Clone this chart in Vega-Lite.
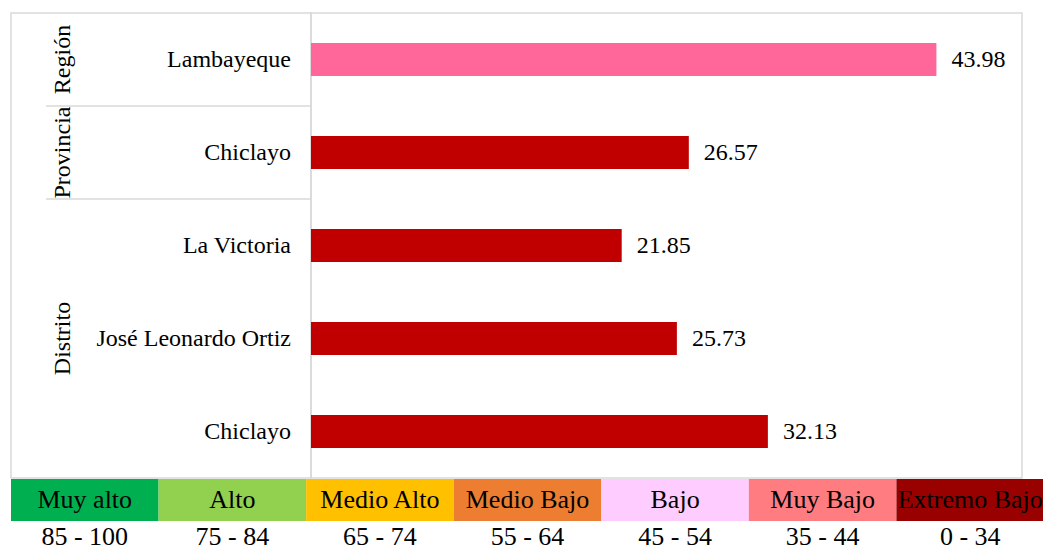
{
  "$schema": "https://vega.github.io/schema/vega-lite/v6.json",
  "padding": {"left": 10, "top": 12, "right": 0, "bottom": 0},
  "background": "white",
  "config": {
    "view": {"stroke": "#d9d9d9", "strokeWidth": 1.5},
    "font": "Liberation Serif",
    "concat": {"spacing": 0}
  },
  "datasets": {
    "filas": [
      {"id": "r0", "nombre": "Lambayeque", "valor": 43.98, "nivel": "Muy Bajo"},
      {"id": "r1", "nombre": "Chiclayo", "valor": 26.57, "nivel": "Extremo Bajo"},
      {"id": "r2", "nombre": "La Victoria", "valor": 21.85, "nivel": "Extremo Bajo"},
      {"id": "r3", "nombre": "José Leonardo Ortiz", "valor": 25.73, "nivel": "Extremo Bajo"},
      {"id": "r4", "nombre": "Chiclayo", "valor": 32.13, "nivel": "Extremo Bajo"}
    ],
    "grupos": [
      {"id": "r0", "grupo": "Región"},
      {"id": "r1", "grupo": "Provincia"},
      {"id": "r3", "grupo": "Distrito"}
    ],
    "separadores": [
      {"id": "r1"},
      {"id": "r2"}
    ],
    "leyenda": [
      {"categoria": "Muy alto", "rango": "85 - 100"},
      {"categoria": "Alto", "rango": "75 - 84"},
      {"categoria": "Medio Alto", "rango": "65 - 74"},
      {"categoria": "Medio Bajo", "rango": "55 - 64"},
      {"categoria": "Bajo", "rango": "45 - 54"},
      {"categoria": "Muy Bajo", "rango": "35 - 44"},
      {"categoria": "Extremo Bajo", "rango": "0 - 34"}
    ]
  },
  "resolve": {"scale": {"color": "independent"}},
  "vconcat": [
    {
      "bounds": "flush",
      "hconcat": [
        {
          "width": 300,
          "height": 465,
          "layer": [
            {
              "data": {"name": "separadores"},
              "mark": {"type": "rule", "color": "#d9d9d9", "strokeWidth": 1.5},
              "encoding": {
                "y": {
                  "field": "id", "type": "nominal", "bandPosition": 0,
                  "scale": {"domain": ["r0", "r1", "r2", "r3", "r4"], "paddingInner": 0, "paddingOuter": 0},
                  "axis": null
                },
                "x": {"datum": 35, "type": "quantitative", "scale": {"domain": [0, 300]}, "axis": null},
                "x2": {"datum": 300}
              }
            },
            {
              "data": {"name": "filas"},
              "mark": {"type": "text", "align": "right", "baseline": "middle", "fontSize": 24, "dx": 130, "color": "black"},
              "encoding": {
                "y": {"field": "id", "type": "nominal", "scale": {"domain": ["r0", "r1", "r2", "r3", "r4"], "paddingInner": 0, "paddingOuter": 0}, "axis": null},
                "text": {"field": "nombre"}
              }
            },
            {
              "data": {"name": "grupos"},
              "mark": {"type": "text", "angle": 270, "align": "center", "baseline": "middle", "fontSize": 24, "dy": -98, "color": "black"},
              "encoding": {
                "y": {"field": "id", "type": "nominal", "scale": {"domain": ["r0", "r1", "r2", "r3", "r4"], "paddingInner": 0, "paddingOuter": 0}, "axis": null},
                "text": {"field": "grupo"}
              }
            }
          ]
        },
        {
          "width": 711,
          "height": 465,
          "data": {"name": "filas"},
          "encoding": {
            "y": {"field": "id", "type": "nominal", "scale": {"domain": ["r0", "r1", "r2", "r3", "r4"], "paddingInner": 0, "paddingOuter": 0}, "axis": null},
            "x": {"field": "valor", "type": "quantitative", "scale": {"domain": [0, 50]}, "axis": null}
          },
          "layer": [
            {
              "mark": {"type": "bar", "height": {"band": 0.355}},
              "encoding": {
                "color": {"field": "nivel", "type": "nominal", "scale": {"domain": ["Muy Bajo", "Extremo Bajo"], "range": ["#FF6699", "#C00000"]}, "legend": null}
              }
            },
            {
              "mark": {"type": "text", "align": "left", "baseline": "middle", "dx": 15, "fontSize": 24, "color": "black"},
              "encoding": {"text": {"field": "valor", "type": "quantitative", "format": ".2f"}}
            }
          ]
        }
      ]
    },
    {
      "width": 1033,
      "height": 42,
      "view": {"stroke": null},
      "data": {"name": "leyenda"},
      "encoding": {
        "x": {
          "field": "rango", "type": "nominal", "sort": null,
          "scale": {"paddingInner": 0, "paddingOuter": 0},
          "axis": {"orient": "bottom", "title": null, "ticks": false, "domain": false, "labelFontSize": 26, "labelColor": "black", "labelPadding": 2, "labelAngle": 0, "labelFont": "Liberation Serif"}
        }
      },
      "layer": [
        {
          "mark": {"type": "rect"},
          "encoding": {
            "color": {
              "field": "categoria", "type": "nominal", "legend": null,
              "scale": {
                "domain": ["Muy alto", "Alto", "Medio Alto", "Medio Bajo", "Bajo", "Muy Bajo", "Extremo Bajo"],
                "range": ["#00B050", "#92D050", "#FFC000", "#ED7D31", "#FFCCFF", "#FF7C80", "#990000"]
              }
            }
          }
        },
        {
          "mark": {"type": "text", "fontSize": 26, "color": "black", "baseline": "middle"},
          "encoding": {"text": {"field": "categoria"}}
        }
      ]
    }
  ]
}
